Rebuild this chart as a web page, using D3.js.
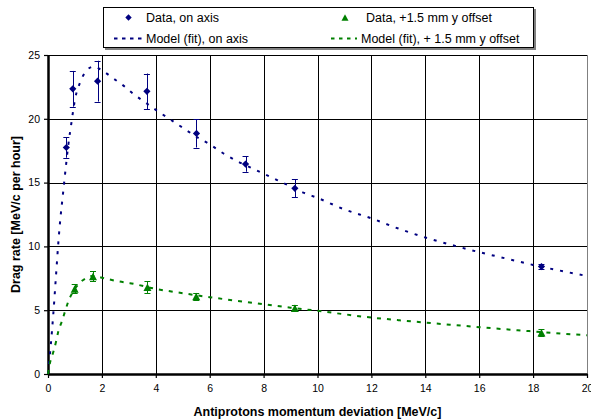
<!DOCTYPE html>
<html>
<head>
<meta charset="utf-8">
<script src="https://cdn.jsdelivr.net/npm/d3@7"></script>
<style>
  body { margin: 0; background: #fff; }
  svg text { font-family: "Liberation Sans", Arial, sans-serif; fill: #000; }
</style>
</head>
<body>
<svg id="chart" width="591" height="419"></svg>
<script>
// ---- measured data ----
const axisX = [0.68, 0.92, 1.84, 3.67, 5.51, 7.33, 9.16, 18.31];
const axisY = [17.75, 22.35, 22.95, 22.15, 18.85, 16.45, 14.55, 8.42];
const axisErr = [0.8, 1.4, 1.6, 1.4, 1.1, 0.6, 0.7, 0.2];

const offX = [0.99, 1.67, 3.69, 5.5, 9.16, 18.31];
const offY = [6.67, 7.65, 6.8, 6.07, 5.16, 3.24];
const offErr = [0.35, 0.4, 0.45, 0.25, 0.25, 0.25];

// model curves
const fitAxisX = [0, 0.1, 0.2, 0.3, 0.38, 0.46, 0.55, 0.65, 0.75, 0.87, 1.0, 1.2, 1.4, 1.7, 2.0, 2.4, 2.8, 3.2, 3.6, 4.0, 4.5, 5.0, 5.5, 6.0, 6.5, 7.0, 7.5, 8.0, 8.5, 9.0, 9.5, 10, 11, 12, 13, 14, 15, 16, 17, 18, 19, 20];
const fitAxisY = [0, 2.2, 4.8, 7.8, 10.2, 12.2, 14.0, 16.0, 17.9, 19.7, 21.5, 22.9, 23.7, 24.1, 23.8, 23.2, 22.6, 21.9, 21.3, 20.7, 20.0, 19.3, 18.6, 18.0, 17.3, 16.7, 16.2, 15.7, 15.2, 14.7, 14.2, 13.8, 12.9, 12.2, 11.4, 10.7, 10.1, 9.55, 9.05, 8.55, 8.1, 7.68];

const fitOffX = [0, 0.07, 0.2, 0.3, 0.38, 0.51, 0.63, 0.75, 0.9, 1.16, 1.4, 1.68, 2.0, 2.23, 2.64, 3.04, 4, 5, 6, 7, 8, 9, 10, 11, 12, 13, 14, 15, 16, 17, 18, 19, 20];
const fitOffY = [0, 0.84, 1.75, 2.54, 3.32, 4.1, 4.89, 5.67, 6.35, 7.1, 7.5, 7.69, 7.55, 7.43, 7.25, 7.12, 6.67, 6.33, 6.02, 5.74, 5.47, 5.2, 4.95, 4.68, 4.42, 4.22, 4.03, 3.85, 3.67, 3.5, 3.34, 3.18, 3.03];

const xTicks = [0, 2, 4, 6, 8, 10, 12, 14, 16, 18, 20];
const yTicks = [0, 5, 10, 15, 20, 25];

const legendLabels = ['Data, on axis', 'Model (fit), on axis', 'Data, +1.5 mm y offset', 'Model (fit), + 1.5 mm y offset'];

const NAVY = '#000080', GREEN = '#008000';

// ---- scales ----
const svg = d3.select('#chart');
const x = d3.scaleLinear().domain([0, 20]).range([48, 587]);
const y = d3.scaleLinear().domain([0, 25]).range([374, 55]);
const crisp = v => Math.round(v) + 0.5;

// ---- grid ----
const grid = svg.append('g');
grid.selectAll('line.v')
	.data(xTicks.slice(1))
	.enter().append('line')
	.attr('x1', d => crisp(x(d))).attr('x2', d => crisp(x(d)))
	.attr('y1', y(25)).attr('y2', y(0))
	.attr('stroke', d => d === 20 ? '#808080' : '#000')
	.attr('stroke-width', 1);
grid.selectAll('line.h')
	.data(yTicks.slice(1))
	.enter().append('line')
	.attr('x1', x(0)).attr('x2', x(20))
	.attr('y1', d => crisp(y(d))).attr('y2', d => crisp(y(d)))
	.attr('stroke', '#000')
	.attr('stroke-width', 1);

// ---- axes ----
const xAxis = svg.append('g')
	.attr('transform', `translate(0,${y(0)})`)
	.call(d3.axisBottom(x).tickValues(xTicks).tickSize(4).tickPadding(7).tickSizeOuter(0));
const yAxis = svg.append('g')
	.attr('transform', `translate(${x(0)},0)`)
	.call(d3.axisLeft(y).tickValues(yTicks).tickSize(4).tickPadding(4).tickSizeOuter(0));
[xAxis, yAxis].forEach(g => {
	g.select('.domain').attr('stroke', '#000').attr('stroke-width', 2.5);
	g.selectAll('.tick line').attr('stroke', '#000').attr('stroke-width', 1.2);
	g.selectAll('.tick text')
		.style('font-family', '"Liberation Sans", Arial, sans-serif')
		.style('font-size', '10.5px')
		.attr('fill', '#000');
});

// ---- model curves ----
const line = d3.line().x(d => x(d[0])).y(d => y(d[1])).curve(d3.curveMonotoneX);
svg.append('path')
	.datum(d3.zip(fitAxisX, fitAxisY))
	.attr('d', line)
	.attr('fill', 'none').attr('stroke', NAVY).attr('stroke-width', 2)
	.attr('stroke-dasharray', '3,7');
svg.append('path')
	.datum(d3.zip(fitOffX, fitOffY))
	.attr('d', line)
	.attr('fill', 'none').attr('stroke', GREEN).attr('stroke-width', 2)
	.attr('stroke-dasharray', '4,6');

// ---- markers ----
const diamond = (cx, cy, r) => `M${cx},${cy - r}L${cx + r},${cy}L${cx},${cy + r}L${cx - r},${cy}Z`;
const triangle = (cx, cy, w, h) => `M${cx},${cy - h / 2}L${cx + w / 2},${cy + h / 2}L${cx - w / 2},${cy + h / 2}Z`;

function errorBars(xs, ys, es, color) {
	const g = svg.append('g').attr('stroke', color).attr('stroke-width', 1);
	const data = d3.zip(xs, ys, es);
	g.selectAll('line.bar').data(data).enter().append('line')
		.attr('x1', d => crisp(x(d[0]))).attr('x2', d => crisp(x(d[0])))
		.attr('y1', d => y(d[1] + d[2])).attr('y2', d => y(d[1] - d[2]));
	[1, -1].forEach(s => {
		g.selectAll(null).data(data).enter().append('line')
			.attr('x1', d => x(d[0]) - 3).attr('x2', d => x(d[0]) + 3)
			.attr('y1', d => crisp(y(d[1] + s * d[2]))).attr('y2', d => crisp(y(d[1] + s * d[2])));
	});
}
errorBars(axisX, axisY, axisErr, NAVY);
errorBars(offX, offY, offErr, GREEN);

svg.append('g').selectAll('path').data(d3.zip(axisX, axisY)).enter().append('path')
	.attr('d', d => diamond(x(d[0]), y(d[1]), 3.6))
	.attr('fill', NAVY);
svg.append('g').selectAll('path').data(d3.zip(offX, offY)).enter().append('path')
	.attr('d', d => triangle(x(d[0]), y(d[1]), 8, 7.5))
	.attr('fill', GREEN);

// ---- axis titles ----
svg.append('text')
	.attr('x', (x(0) + x(20)) / 2).attr('y', 416)
	.attr('text-anchor', 'middle')
	.style('font-size', '12.5px').style('font-weight', 'bold')
	.text('Antiprotons momentum deviation [MeV/c]');
svg.append('text')
	.attr('transform', `translate(20,${(y(0) + y(25)) / 2}) rotate(-90)`)
	.attr('text-anchor', 'middle')
	.style('font-size', '12.5px').style('font-weight', 'bold')
	.text('Drag rate [MeV/c per hour]');

// ---- legend ----
const legend = svg.append('g');
legend.append('rect')
	.attr('x', 105).attr('y', 9).attr('width', 431).attr('height', 41)
	.attr('fill', '#808080');
legend.append('rect')
	.attr('x', 103.5).attr('y', 7.5).attr('width', 430).attr('height', 40)
	.attr('fill', '#fff').attr('stroke', '#000').attr('stroke-width', 1);

const row1 = 17.5, row2 = 38.5;
legend.append('path').attr('d', diamond(128.5, row1, 3.2)).attr('fill', NAVY);
legend.append('line')
	.attr('x1', 114).attr('x2', 142).attr('y1', row2).attr('y2', row2)
	.attr('stroke', NAVY).attr('stroke-width', 2).attr('stroke-dasharray', '3.5,4.5');
legend.append('path').attr('d', triangle(345, row1, 7, 6.5)).attr('fill', GREEN);
legend.append('line')
	.attr('x1', 331).attr('x2', 357).attr('y1', row2).attr('y2', row2)
	.attr('stroke', GREEN).attr('stroke-width', 2).attr('stroke-dasharray', '3.5,4.5');

const legendPos = [[146, row1], [146, row2], [366, row1], [361, row2]];
legend.selectAll('text.item').data(legendLabels).enter().append('text')
	.attr('x', (d, i) => legendPos[i][0])
	.attr('y', (d, i) => legendPos[i][1])
	.attr('dy', '0.36em')
	.style('font-size', '12.5px')
	.text(d => d);
</script>
</body>
</html>
